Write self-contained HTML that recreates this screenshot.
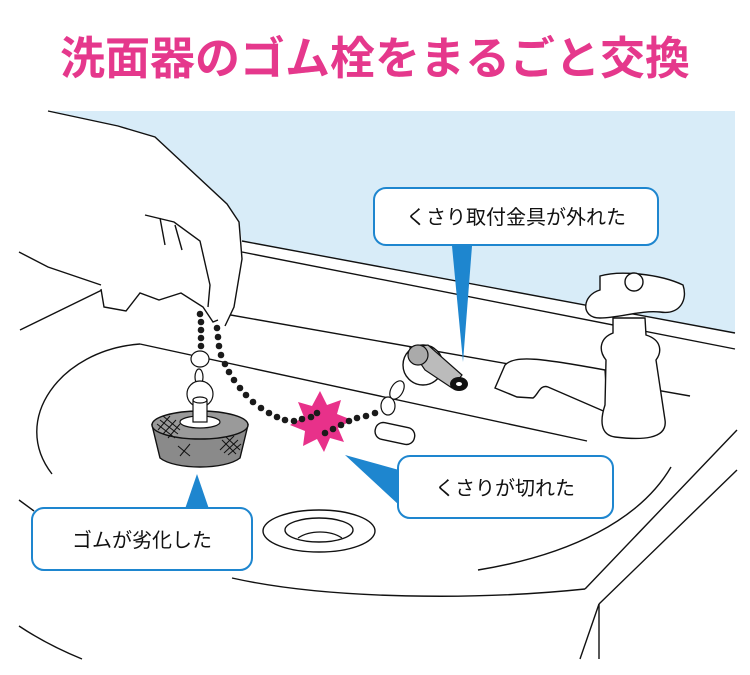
<!DOCTYPE html>
<html><head><meta charset="utf-8"><style>
html,body{margin:0;padding:0;background:#fff;}
svg{display:block;}
</style></head><body>
<svg width="750" height="675" viewBox="0 0 750 675" xmlns="http://www.w3.org/2000/svg">
<text x="375" y="74" text-anchor="middle" font-family="'Liberation Sans','Noto Sans CJK JP',sans-serif" font-weight="bold" font-size="45" fill="#e5388c">洗面器のゴム栓をまるごと交換</text>

<!-- wall -->
<polygon points="48,111 735,111 735,333 242,241 239,222 227,204 155,137 118,126" fill="#d8ecf8"/>
<g fill="none" stroke="#111" stroke-width="1.4">
<line x1="242" y1="241" x2="735" y2="333"/>
<line x1="242" y1="252" x2="735" y2="349"/>
<path d="M20,330 L104,289"/>
<line x1="225" y1="314" x2="690" y2="396"/>
<line x1="140" y1="344" x2="587" y2="441"/>
<path d="M140,344 C60,350 10,420 52,474"/>
<path d="M232,578 C330,600 480,600 585,589"/>
<path d="M478,570 C570,555 640,520 671,467"/>
<path d="M585,589 L737,430"/>
<path d="M599,604 L737,470"/>
<path d="M599,604 L599,659"/>
<path d="M599,604 L580,659"/>
<path d="M19,626 C40,640 60,650 82,659"/>
<path d="M19,500 L34,511"/>
</g>
<ellipse cx="319" cy="531" rx="56" ry="21" fill="#fff" stroke="#111" stroke-width="1.4"/>
<ellipse cx="319" cy="530" rx="34" ry="12" fill="#fff" stroke="#111" stroke-width="1.4"/>
<path d="M298,538 C310,530 330,530 342,538" fill="none" stroke="#111" stroke-width="1.2"/>

<!-- hand -->
<path d="M48,111 L118,126 L155,137 L227,204 L239,222 L242,259 L234,307 L225,326 L213,322 L203,307 L181,293 L159,300 L140,293 L126,311 L104,307 L101,289 L48,267 L19,252 L19,111 Z" fill="#fff" stroke="none"/>
<path d="M48,111 L118,126 L155,137 L227,204 L239,222 L242,259 L234,307 L225,326 M19,252 L48,267 L101,285 M101,289 L104,307 L126,311 L140,293 L159,300 L181,293 L203,307 L213,322 L218,320 M145,215 L174,222 L200,241 L210,285 L208,307 M160,218 L165,245 M175,225 L182,250" fill="none" stroke="#111" stroke-width="1.4"/>

<!-- faucet -->
<g fill="#fff" stroke="#111" stroke-width="1.4">
<path d="M608,413 L548,387 C540,384 538,395 533,398 L517,397 L495,388 L505,365 C515,355 540,358 605,370 Z"/>
<path d="M613,318 L645,318 L646,335 C662,340 662,352 656,360 L665,420 C668,440 640,440 615,437 C600,435 600,420 605,405 L606,360 C598,350 600,338 613,333 Z"/>
<path d="M600,276 C620,270 660,274 683,285 C688,300 680,315 660,312 C640,310 620,318 600,318 C580,318 582,295 600,290 Z"/>
<circle cx="634" cy="282" r="9"/>
</g>

<!-- fitting -->
<circle cx="423" cy="365" r="20" fill="#fff" stroke="#111" stroke-width="1.4"/>
<path d="M410,348 L428,345 L462,375 L452,388 L425,370 Z" fill="#bbb" stroke="#111" stroke-width="1.2"/>
<circle cx="418" cy="355" r="10" fill="#aaa" stroke="#111" stroke-width="1.2"/>
<ellipse cx="459" cy="384" rx="9" ry="7" fill="#111"/>
<ellipse cx="459" cy="384" rx="3" ry="2" fill="#fff"/>
<ellipse cx="397" cy="390" rx="6" ry="10" transform="rotate(30 397 390)" fill="#fff" stroke="#111" stroke-width="1.2"/>
<ellipse cx="388" cy="406" rx="7" ry="9" fill="#fff" stroke="#111" stroke-width="1.2"/>
<rect x="375" y="425" width="40" height="17" rx="8" transform="rotate(12 395 433)" fill="#fff" stroke="#111" stroke-width="1.4"/>

<polygon points="320,391 327,405 341,400 337,414 352,420 338,428 344,442 330,438 324,452 317,439 303,446 305,431 290,425 304,417 298,402 312,406" fill="#e8318a"/>

<g fill="#1a1a1a">
<circle cx="200" cy="314" r="3.3"/><circle cx="201" cy="322" r="3.3"/><circle cx="201" cy="330" r="3.3"/><circle cx="201" cy="338" r="3.3"/><circle cx="201" cy="346" r="3.3"/>
<circle cx="217" cy="328" r="3.3"/><circle cx="218" cy="337" r="3.3"/><circle cx="219" cy="346" r="3.3"/><circle cx="221" cy="355" r="3.3"/><circle cx="225" cy="364" r="3.3"/><circle cx="229" cy="372" r="3.3"/><circle cx="234" cy="380" r="3.3"/><circle cx="240" cy="388" r="3.3"/><circle cx="246" cy="395" r="3.3"/><circle cx="253" cy="402" r="3.3"/><circle cx="261" cy="408" r="3.3"/><circle cx="269" cy="413" r="3.3"/><circle cx="277" cy="417" r="3.3"/><circle cx="285" cy="420" r="3.3"/><circle cx="294" cy="421" r="3.3"/><circle cx="302" cy="419" r="3.3"/><circle cx="311" cy="417" r="3.3"/><circle cx="317" cy="413" r="3.3"/>
<circle cx="325" cy="433" r="3.3"/><circle cx="333" cy="429" r="3.3"/><circle cx="341" cy="425" r="3.3"/><circle cx="349" cy="421" r="3.3"/><circle cx="357" cy="418" r="3.3"/><circle cx="366" cy="416" r="3.3"/><circle cx="375" cy="413" r="3.3"/>
</g>

<ellipse cx="200" cy="359" rx="9" ry="8" fill="#fff" stroke="#111" stroke-width="1.2"/>
<ellipse cx="199" cy="377" rx="4" ry="8" fill="#fff" stroke="#111" stroke-width="1.2"/>
<circle cx="200" cy="394" r="13" fill="#fff" stroke="#111" stroke-width="1.2"/>
<path d="M152,425 L160,458 C175,470 225,470 240,458 L248,425 Z" fill="#8a8a8a" stroke="#111" stroke-width="1.4"/>
<ellipse cx="200" cy="425" rx="48" ry="14" fill="#9a9a9a" stroke="#111" stroke-width="1.4"/>
<ellipse cx="200" cy="422" rx="20" ry="6" fill="#fff" stroke="#111" stroke-width="1.2"/>
<rect x="193" y="400" width="14" height="22" fill="#fff" stroke="#111" stroke-width="1.2"/>
<ellipse cx="200" cy="400" rx="7" ry="3" fill="#fff" stroke="#111" stroke-width="1.2"/>
<g stroke="#111" stroke-width="1">
<path d="M157,424 L175,438 M160,420 L178,434 M163,416 L180,430 M158,430 L170,416 M163,434 L176,420 M168,438 L180,424"/>
<path d="M220,450 L234,436 M224,453 L238,440 M228,455 L241,444 M222,440 L236,454 M226,437 L240,450"/>
<path d="M178,446 L190,456 M180,456 L190,444"/>
</g>

<g fill="#fff" stroke="#1e86cf" stroke-width="2">
<rect x="374" y="188" width="284" height="57" rx="12"/>
<rect x="398" y="456" width="215" height="62" rx="12"/>
<rect x="32" y="508" width="220" height="62" rx="12"/>
</g>
<g fill="#1e86cf">
<polygon points="452,246 472,246 463,362"/>
<polygon points="399,470 399,505 345,455"/>
<polygon points="185,509 209,509 197,474"/>
</g>
<g font-family="'Liberation Sans','Noto Sans CJK JP',sans-serif" font-size="20" fill="#111" text-anchor="middle">
<text x="516" y="224">くさり取付金具が外れた</text>
<text x="505" y="495">くさりが切れた</text>
<text x="142" y="547">ゴムが劣化した</text>
</g>
</svg>
</body></html>
